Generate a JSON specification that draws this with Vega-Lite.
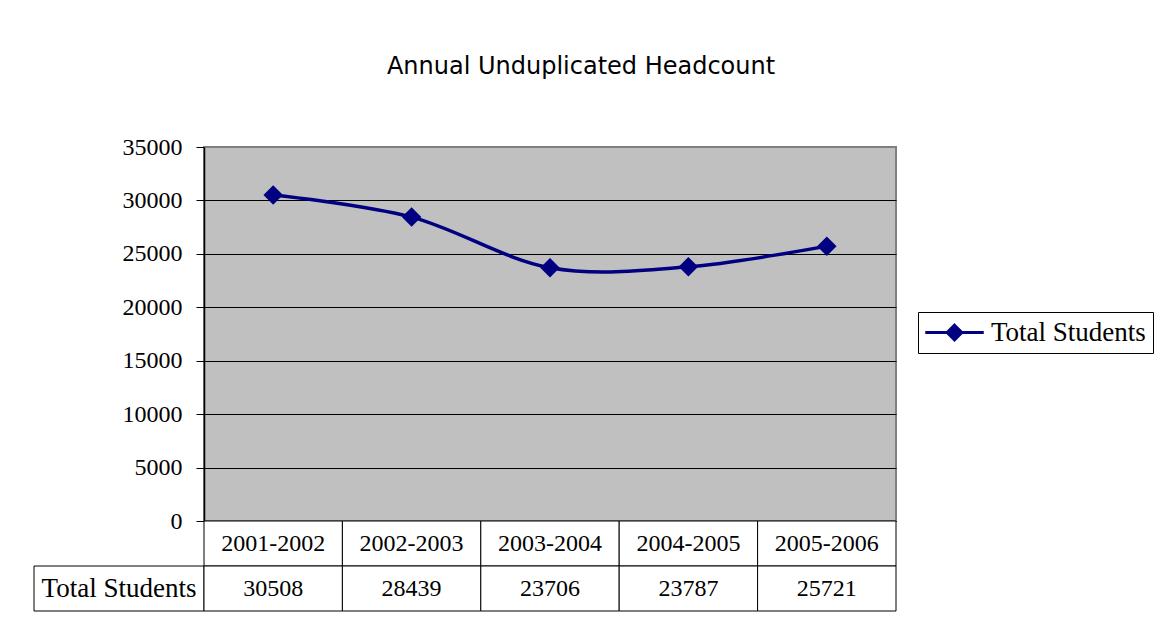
{
  "$schema": "https://vega.github.io/schema/vega-lite/v6.json",
  "autosize": {"type": "pad"},
  "padding": {"left": 33, "top": 54, "right": 17, "bottom": 31},
  "background": "white",
  "datasets": {
    "hc": [
      {"year": "2001-2002", "students": 30508},
      {"year": "2002-2003", "students": 28439},
      {"year": "2003-2004", "students": 23706},
      {"year": "2004-2005", "students": 23787},
      {"year": "2005-2006", "students": 25721}
    ]
  },
  "columns": 2,
  "spacing": 0,
  "bounds": "flush",
  "config": {
    "view": {"stroke": null},
    "font": "Liberation Serif"
  },
  "concat": [
    {
      "width": 170,
      "height": 374,
      "data": {"values": []},
      "mark": "text"
    },
    {
      "width": 692,
      "height": 374,
      "data": {"name": "hc"},
      "view": {"fill": "#C0C0C0", "stroke": "#808080", "strokeWidth": 2},
      "title": {
        "text": "Annual Unduplicated Headcount",
        "font": "DejaVu Sans",
        "fontSize": 24,
        "fontWeight": "normal",
        "color": "black",
        "anchor": "middle",
        "dx": 31,
        "offset": 56
      },
      "encoding": {
        "x": {
          "field": "year",
          "type": "ordinal",
          "scale": {"type": "point", "padding": 0.5},
          "axis": null
        },
        "y": {
          "field": "students",
          "type": "quantitative",
          "scale": {"domain": [0, 35000], "nice": false},
          "axis": {
            "title": null,
            "values": [0, 5000, 10000, 15000, 20000, 25000, 30000, 35000],
            "format": "d",
            "labelFont": "Liberation Serif",
            "labelFontSize": 24,
            "labelColor": "black",
            "labelPadding": 14,
            "tickColor": "black",
            "tickSize": 8,
            "domainColor": "black",
            "domainWidth": 1.5,
            "gridColor": {"condition": {"test": "datum.value == 35000", "value": "#808080"}, "value": "black"},
            "gridOpacity": 1,
            "gridWidth": 1
          }
        },
        "color": {
          "datum": "Total Students",
          "type": "nominal",
          "scale": {"range": ["#000080"]},
          "legend": {
            "orient": "none",
            "legendX": 884,
            "legendY": 165,
            "title": null,
            "strokeColor": "black",
            "fillColor": "white",
            "padding": 7,
            "labelFont": "Liberation Serif",
            "labelFontSize": 27,
            "labelColor": "black",
            "symbolType": "M-3,0L3,0M0,-0.75L0.75,0L0,0.75L-0.75,0Z",
            "symbolSize": 380,
            "symbolStrokeWidth": 3,
            "symbolFillColor": "#000080",
            "symbolStrokeColor": "#000080",
            "symbolOffset": 16,
            "labelOffset": 23
          }
        }
      },
      "layer": [
        {
          "mark": {"type": "line", "interpolate": "cardinal", "strokeWidth": 3.5}
        },
        {
          "mark": {"type": "point", "shape": "diamond", "filled": true, "size": 380, "opacity": 1}
        }
      ]
    },
    {
      "width": 170,
      "height": 90,
      "data": {"values": [{"row": "students", "label": "Total Students"}]},
      "encoding": {
        "y": {
          "field": "row",
          "type": "nominal",
          "scale": {"domain": ["year", "students"], "paddingInner": 0, "paddingOuter": 0},
          "axis": null
        }
      },
      "layer": [
        {"mark": {"type": "rect", "fill": "white", "stroke": "black", "strokeWidth": 1}},
        {
          "mark": {"type": "text", "font": "Liberation Serif", "fontSize": 27, "color": "black"},
          "encoding": {"text": {"field": "label"}}
        }
      ]
    },
    {
      "width": 692,
      "height": 90,
      "data": {"name": "hc"},
      "transform": [{"fold": ["year", "students"], "as": ["row", "cell"]}],
      "encoding": {
        "x": {
          "field": "year",
          "type": "ordinal",
          "scale": {"type": "band", "paddingInner": 0, "paddingOuter": 0},
          "axis": null
        },
        "y": {
          "field": "row",
          "type": "nominal",
          "scale": {"domain": ["year", "students"], "paddingInner": 0, "paddingOuter": 0},
          "axis": null
        }
      },
      "layer": [
        {"mark": {"type": "rect", "fill": "white", "stroke": "black", "strokeWidth": 1}},
        {
          "mark": {"type": "text", "font": "Liberation Serif", "fontSize": 24, "color": "black"},
          "encoding": {"text": {"field": "cell", "type": "nominal"}}
        }
      ]
    }
  ]
}
